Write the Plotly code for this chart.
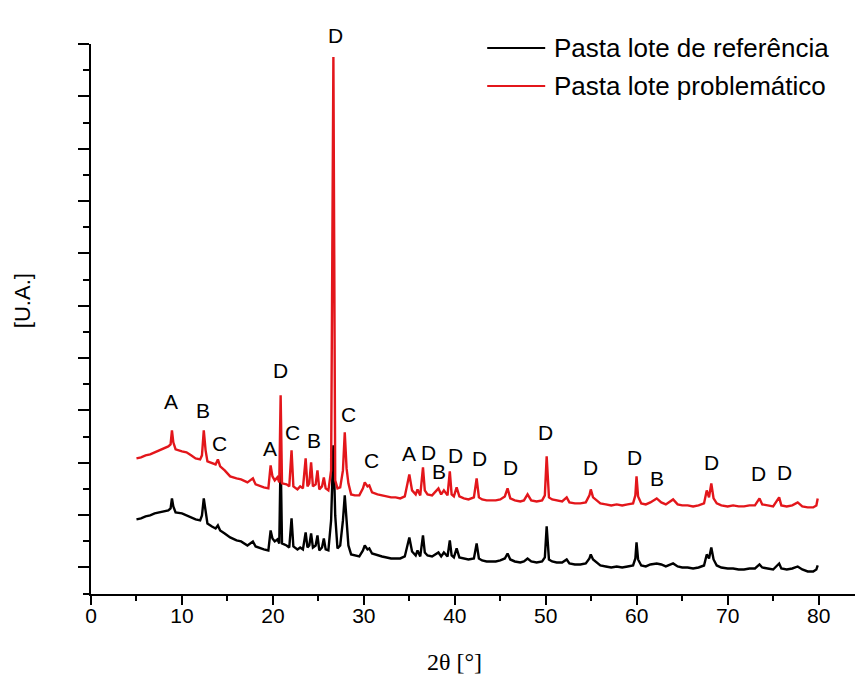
import plotly.graph_objects as go

# 2θ positions (degrees) shared by both diffractograms
two_theta = [
    5.0, 5.5, 6.0, 6.5, 7.0, 7.5, 8.0, 8.5, 8.75, 8.9, 9.05, 9.3, 10.0, 10.5, 11.0, 11.5,
    12.0, 12.2, 12.4, 12.6, 12.8, 13.3, 13.7, 13.95, 14.2, 14.7, 15.3, 16.0, 16.5, 17.2,
    17.8, 18.1, 18.6, 19.0, 19.5, 19.75, 19.95, 20.2, 20.5, 20.7, 20.85, 21.0, 21.5, 21.8,
    22.05, 22.25, 22.7, 23.0, 23.3, 23.6, 23.8, 24.0, 24.2, 24.4, 24.7, 24.9, 25.1, 25.4,
    25.6, 25.8, 26.1, 26.4, 26.65, 26.85, 27.1, 27.4, 27.7, 27.9, 28.1, 28.3, 28.6, 29.0,
    29.5, 29.9, 30.1, 30.4, 30.6, 30.9, 31.5, 32.0, 32.5, 33.0, 33.5, 34.0, 34.5, 35.0,
    35.3, 35.7, 35.9, 36.2, 36.5, 36.7, 37.0, 37.5, 38.2, 38.5, 38.8, 39.2, 39.45, 39.65,
    39.9, 40.2, 40.5, 41.0, 41.5, 42.1, 42.4, 42.65, 43.0, 43.5, 44.0, 44.5, 45.0, 45.5,
    45.8, 46.1, 46.6, 47.2, 47.6, 48.0, 48.4, 49.0, 49.6, 49.9, 50.1, 50.35, 50.7, 51.2,
    51.8, 52.3, 52.6, 53.2, 53.8, 54.4, 54.8, 54.95, 55.2, 55.6, 56.0, 56.6, 57.2, 57.8,
    58.4, 59.0, 59.6, 59.85, 59.98, 60.15, 60.5, 61.0, 61.5, 62.2, 62.7, 63.2, 64.0, 64.5,
    65.0, 65.6, 66.2, 66.8, 67.4, 67.7, 67.95, 68.2, 68.45, 68.8, 69.3, 70.0, 70.6, 71.2,
    71.8, 72.4, 73.0, 73.5, 73.8, 74.4, 75.0, 75.66, 75.9, 76.5, 77.1, 77.7, 78.2, 78.8,
    79.4, 79.75, 79.9,
]

# Intensity (arbitrary units) - reference batch paste
ref_intensity = [
    81, 82, 84, 85, 87, 88, 89, 90, 92, 102, 94, 88, 87, 85, 83, 81,
    80, 85, 102, 88, 77, 74, 72, 75, 70, 67, 63, 60, 59, 55,
    59, 54, 52, 51, 50, 70, 62, 59, 61, 57, 145, 57, 55, 53,
    82, 54, 51, 53, 51, 68, 53, 55, 67, 53, 55, 65, 50, 53,
    62, 51, 50, 80, 155, 85, 52, 55, 80, 105, 80, 55, 46, 45,
    44, 50, 55, 51, 52, 47, 45, 44, 43, 42, 42, 42, 44, 63,
    49, 45, 50, 44, 65, 48, 45, 44, 48, 44, 48, 44, 60, 45,
    43, 52, 43, 42, 41, 42, 57, 42, 40, 39, 39, 39, 40, 42,
    47, 41, 39, 38, 39, 42, 39, 38, 39, 43, 74, 41, 39, 38,
    38, 41, 37, 36, 36, 37, 42, 46, 41, 38, 35, 34, 33, 34,
    33, 34, 35, 42, 58, 41, 35, 34, 36, 37, 36, 34, 37, 34,
    33, 33, 32, 33, 35, 46, 42, 53, 41, 35, 33, 32, 32, 31,
    31, 32, 32, 36, 33, 32, 31, 37, 32, 31, 32, 34, 31, 29,
    29, 31, 35,
]

# Intensity (arbitrary units) - problematic batch paste
prob_intensity = [
    142, 143, 145, 146, 148, 150, 152, 154, 156, 170, 158, 151, 149, 148, 145, 142,
    141, 145, 170, 150, 139, 137, 136, 141, 134, 130, 124, 122, 121, 118,
    122, 116, 114, 113, 112, 135, 124, 120, 123, 118, 205, 117, 116, 114,
    150, 114, 111, 114, 112, 142, 114, 117, 138, 114, 116, 130, 111, 114,
    123, 112, 110, 130, 543, 120, 112, 113, 130, 168, 132, 117, 106, 105,
    105, 112, 118, 114, 115, 108, 106, 105, 104, 103, 103, 102, 104, 126,
    110, 106, 111, 105, 133, 110, 106, 105, 112, 106, 110, 105, 129, 106,
    104, 113, 104, 102, 101, 103, 122, 103, 101, 100, 100, 100, 101, 104,
    112, 102, 100, 99, 100, 106, 100, 99, 100, 105, 144, 103, 101, 100,
    99, 103, 98, 97, 97, 98, 105, 111, 103, 100, 97, 96, 95, 96,
    95, 96, 97, 105, 124, 104, 97, 96, 98, 102, 98, 96, 101, 96,
    95, 95, 94, 95, 97, 110, 103, 117, 102, 97, 95, 94, 95, 94,
    94, 95, 95, 102, 96, 95, 94, 103, 95, 94, 95, 98, 94, 93,
    93, 95, 102,
]

# Phase identification labels
peak_labels = ["A", "B", "C", "A", "D", "C", "B", "D", "C", "C", "A", "D", "B",
               "D", "D", "D", "D", "D", "D", "B", "D", "D", "D"]
label_theta = [8.85, 12.35, 14.1, 19.7, 20.8, 22.1, 24.5, 26.85, 28.3, 30.8, 35.0, 37.1, 38.3,
               40.1, 42.7, 46.1, 49.95, 54.9, 59.8, 62.25, 68.2, 73.4, 76.2]
label_level = [199, 190, 157, 152, 230, 168, 160, 565, 186, 140, 147, 148, 129,
               145, 142, 133, 168, 133, 143, 122, 138, 127, 128]

series_names = ["Pasta lote de referência", "Pasta lote problemático"]
series_colors = ["#000000", "#e3161b"]

Y_MAX = 556
AX_FONT = "Arial, 'Liberation Sans', sans-serif"

fig = go.Figure()
for name, vals, col in zip(series_names, [ref_intensity, prob_intensity], series_colors):
    fig.add_trace(go.Scatter(
        x=two_theta, y=vals, mode="lines", name=name,
        line=dict(color=col, width=2.4), showlegend=False,
    ))

# Labels above the top of the axis are pinned at the edge and shifted up
for t, lx, ly in zip(peak_labels, label_theta, label_level):
    shift = max(0, ly - Y_MAX)
    fig.add_annotation(x=lx, y=min(ly, Y_MAX), yshift=shift, text=t, showarrow=False,
                       font=dict(family=AX_FONT, size=21, color="#000"),
                       xanchor="center", yanchor="middle")

# Legend drawn as line samples + text in the upper right
leg_y = [0.9927, 0.9236]
for name, col, yy in zip(series_names, series_colors, leg_y):
    fig.add_shape(type="line", xref="paper", yref="paper",
                  x0=0.5186, x1=0.5945, y0=yy, y1=yy,
                  line=dict(color=col, width=1.8))
    fig.add_annotation(xref="paper", yref="paper", x=0.6035, y=yy, text=name,
                       showarrow=False, xanchor="left", yanchor="middle",
                       font=dict(family=AX_FONT, size=26, color="#000"))

# Axis titles
fig.add_annotation(xref="paper", yref="paper", x=0.476, y=-0.1228, text="2θ [°]",
                   showarrow=False, xanchor="center", yanchor="middle",
                   font=dict(family="Liberation Serif, Times New Roman, serif",
                             size=24, color="#000"))
fig.add_annotation(xref="paper", yref="paper", x=-0.0905, y=0.534, text="[U.A.]",
                   showarrow=False, xanchor="center", yanchor="middle", textangle=-90,
                   font=dict(family=AX_FONT, size=22, color="#000"))

fig.update_layout(
    width=855, height=678,
    margin=dict(l=91, r=0, t=44, b=84),
    paper_bgcolor="white", plot_bgcolor="white",
    font=dict(family=AX_FONT, color="#000"),
)
fig.update_xaxes(
    range=[0, 84.0], tickmode="linear", tick0=0, dtick=10,
    ticks="outside", ticklen=9, tickwidth=2, tickcolor="#000",
    minor=dict(ticks="outside", ticklen=5, tickwidth=2, dtick=5, tick0=0, tickcolor="#000"),
    showline=True, linewidth=2, linecolor="#000", showgrid=False, zeroline=False,
    tickfont=dict(family=AX_FONT, size=21, color="#000"),
    ticklabelstandoff=-7,
)
fig.update_yaxes(
    range=[6.5, Y_MAX], tickmode="linear", tick0=33, dtick=52.3,
    ticks="outside", ticklen=11, tickwidth=2, tickcolor="#000",
    minor=dict(ticks="outside", ticklen=6, tickwidth=2, dtick=26.15, tick0=33, tickcolor="#000"),
    showline=True, linewidth=2, linecolor="#000", showgrid=False, zeroline=False,
    showticklabels=False,
)

fig.write_html("out.html")
